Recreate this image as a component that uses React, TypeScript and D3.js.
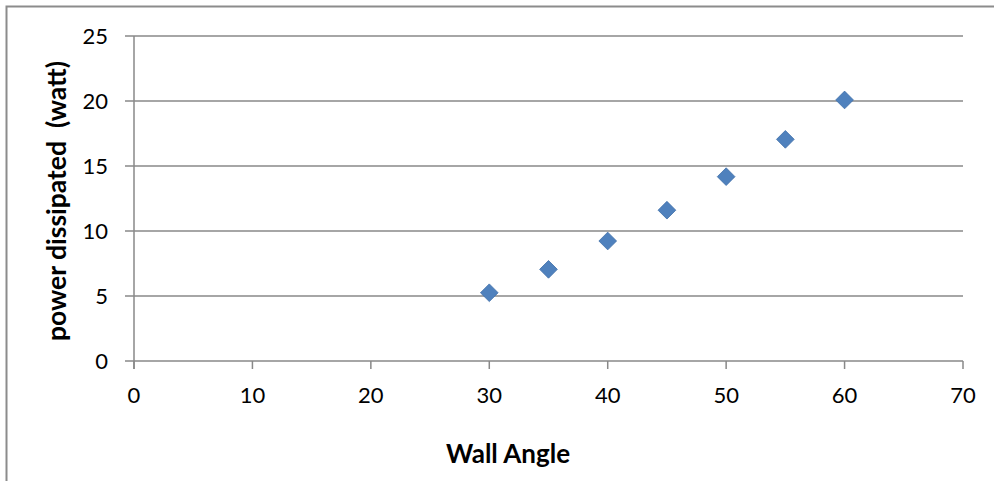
import React from "react";
import * as d3 from "d3";

const wallAngles = [30, 35, 40, 45, 50, 55, 60];
const powerDissipated = [5.25, 7.05, 9.23, 11.6, 14.18, 17.05, 20.08];
const xTicks = [0, 10, 20, 30, 40, 50, 60, 70];
const yTicks = [0, 5, 10, 15, 20, 25];

const W = 994;
const H = 481;
const plot = { left: 134, right: 963, top: 36, bottom: 361 };
const font = "Lato, 'Open Sans', sans-serif";

export default function App() {
  const x = d3.scaleLinear().domain([0, 70]).range([plot.left, plot.right]);
  const y = d3.scaleLinear().domain([0, 25]).range([plot.bottom, plot.top]);
  const diamond = d3.symbol().type(d3.symbolDiamond2).size(200)();
  const grid = "#888888";

  return (
    <div style={{ position: "absolute", left: 0, top: 0 }}>
      <svg width={W} height={H} style={{ display: "block", background: "#fff" }}>
        <rect x={6.5} y={6.5} width={W + 10} height={H + 10} fill="none" stroke="#8c8c8c" strokeWidth={2} />
        {yTicks.map((t) => (
          <g key={"y" + t}>
            <line x1={plot.left - 9} x2={plot.right} y1={y(t)} y2={y(t)} stroke={grid} strokeWidth={1.5} />
            <text x={108} y={y(t)} dy="0.36em" textAnchor="end" fontFamily={font} fontSize={22} fill="#000">
              {t}
            </text>
          </g>
        ))}
        <line x1={plot.left} x2={plot.left} y1={plot.top} y2={plot.bottom + 8} stroke={grid} strokeWidth={1.5} />
        {xTicks.map((t) => (
          <g key={"x" + t}>
            <line x1={x(t)} x2={x(t)} y1={plot.bottom} y2={plot.bottom + 8} stroke={grid} strokeWidth={1.5} />
            <text x={x(t)} y={403} textAnchor="middle" fontFamily={font} fontSize={22} fill="#000">
              {t}
            </text>
          </g>
        ))}
        {wallAngles.map((a, i) => (
          <path
            key={"p" + a}
            d={diamond!}
            transform={`translate(${x(a)},${y(powerDissipated[i])})`}
            fill="#4f81bd"
            stroke="#3f6fa8"
            strokeWidth={0.8}
          />
        ))}
        <text x={508} y={463} textAnchor="middle" fontFamily={font} fontSize={26} fontWeight="bold" fill="#000">
          Wall Angle
        </text>
        <text
          transform={`translate(${66},${201}) rotate(-90)`}
          textAnchor="middle"
          fontFamily={font}
          fontSize={26.5}
          fontWeight="bold"
          fill="#000"
          xmlSpace="preserve"
          style={{ whiteSpace: "pre" }}
        >
          power dissipated  (watt)
        </text>
      </svg>
    </div>
  );
}
